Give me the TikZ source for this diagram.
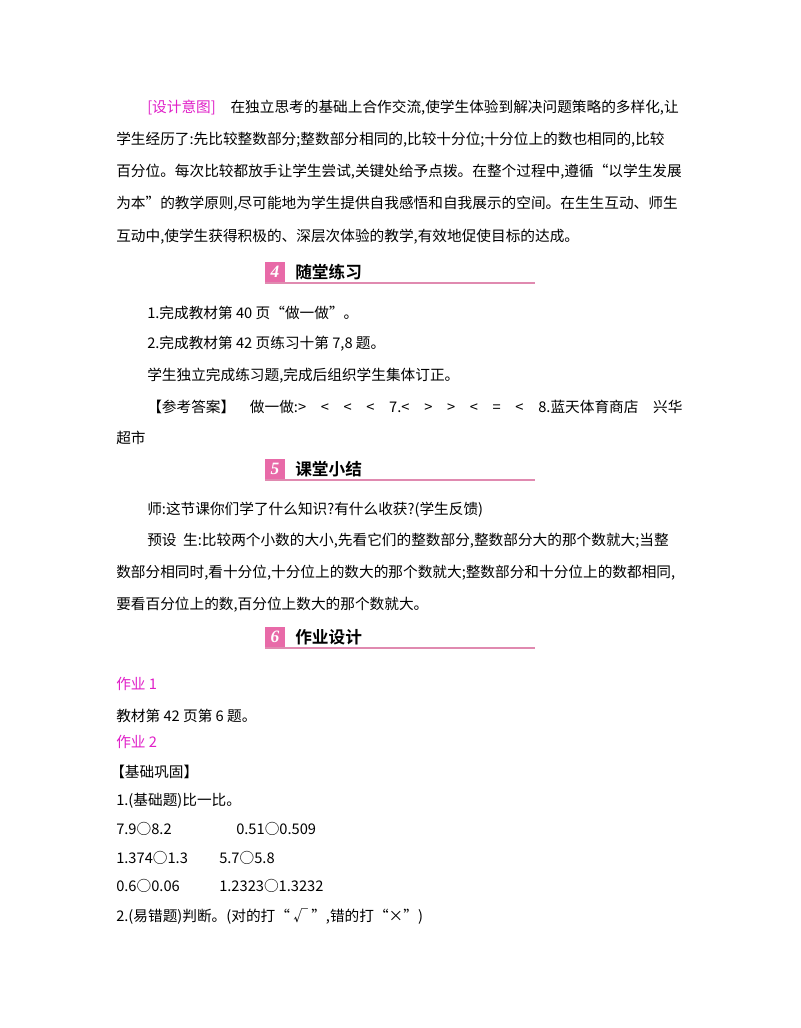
\documentclass[tikz,border=0pt]{standalone}
\usepackage{fontspec}
\setmainfont{Liberation Serif}
\newfontfamily\cjk{Noto Sans CJK SC}
\newfontfamily\cjkb{Noto Sans CJK SC Bold}
\definecolor{mag}{HTML}{E020C8}
\definecolor{pinkbox}{HTML}{E86AA8}
\definecolor{pinkline}{HTML}{E08AB0}
\begin{document}
\begin{tikzpicture}[x=0.75pt,y=-0.75pt,
  tl/.style={anchor=west,inner sep=0pt,font=\cjk\fontsize{11}{13}\selectfont},
  hd/.style={anchor=west,inner sep=0pt,font=\cjkb\fontsize{12.5}{14}\selectfont}]
\useasboundingbox (0,0) rectangle (800,1028);
\fill[white] (0,0) rectangle (800,1028);
\node[tl] (p1) at (147,108) {\textcolor{mag}{[设计意图]}\quad 在独立思考的基础上合作交流,使学生体验到解决问题策略的多样化,让};
\node[tl] (p2) at (116,140) {学生经历了:先比较整数部分;整数部分相同的,比较十分位;十分位上的数也相同的,比较};
\node[tl] (p3) at (116,172) {百分位。每次比较都放手让学生尝试,关键处给予点拨。在整个过程中,遵循“以学生发展};
\node[tl] (p4) at (116,204) {为本”的教学原则,尽可能地为学生提供自我感悟和自我展示的空间。在生生互动、师生};
\node[tl] (p5) at (116,237) {互动中,使学生获得积极的、深层次体验的教学,有效地促使目标的达成。};
% headers
\foreach \n/\t/\y in {4/随堂练习/272,5/课堂小结/469,6/作业设计/637}{
  \fill[pinkbox] (265,\y-10) rectangle (285,\y+10);
  \node[font=\bfseries\itshape\fontsize{13}{13}\selectfont,text=white] at (275,\y) {\n};
  \node[hd] at (295,\y) {\t};
  \draw[pinkline,line width=0.8pt] (265,\y+11) -- (535,\y+11);
}
\node[tl] (a1) at (147,313) {1.完成教材第 40 页“做一做”。};
\node[tl] (a2) at (147,344) {2.完成教材第 42 页练习十第 7,8 题。};
\node[tl] (a3) at (147,376) {学生独立完成练习题,完成后组织学生集体订正。};
\node[tl] (a4) at (147,407) {【参考答案】\quad 做一做:>\quad <\quad <\quad <\quad 7.<\quad >\quad >\quad <\quad =\quad <\quad 8.蓝天体育商店\quad 兴华};
\node[tl] (a5) at (116,438) {超市};
\node[tl] (b1) at (147,510) {师:这节课你们学了什么知识?有什么收获?(学生反馈)};
\node[tl] (b2) at (147,541) {预设\ \ 生:比较两个小数的大小,先看它们的整数部分,整数部分大的那个数就大;当整};
\node[tl] (b3) at (116,573) {数部分相同时,看十分位,十分位上的数大的那个数就大;整数部分和十分位上的数都相同,};
\node[tl] (b4) at (116,605) {要看百分位上的数,百分位上数大的那个数就大。};
\node[tl,text=mag] (c1) at (116,684) {作业 1};
\node[tl] (c2) at (116,716) {教材第 42 页第 6 题。};
\node[tl,text=mag] (c3) at (116,742) {作业 2};
\node[tl] (c4) at (110,772) {【基础巩固】};
\node[tl] (c5) at (116,801) {1.(基础题)比一比。};
\node[tl] (d1) at (116,829) {7.9○8.2};
\node[tl] (d2) at (236,829) {0.51○0.509};
\node[tl] (d3) at (116,858) {1.374○1.3};
\node[tl] (d4) at (219,858) {5.7○5.8};
\node[tl] (d5) at (116,886) {0.6○0.06};
\node[tl] (d6) at (219,886) {1.2323○1.3232};
\node[tl] (d7) at (116,916) {2.(易错题)判断。(对的打“ √ ”,错的打“×”)};
\end{tikzpicture}
\end{document}
